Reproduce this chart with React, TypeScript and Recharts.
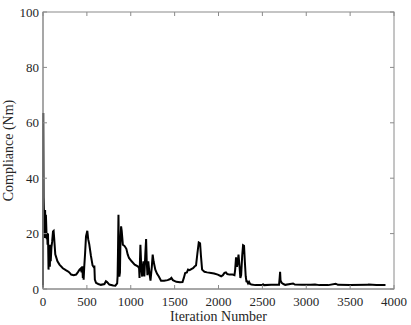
import React from "react";
import { LineChart, Line, XAxis, YAxis } from "recharts";

const iterations: number[] = [0, 3, 7, 10, 15, 19, 24, 28, 33, 38, 42, 47, 52, 57, 63, 68, 74, 78, 84, 88, 96, 104, 114, 121, 128, 140, 150, 165, 188, 226, 260, 283, 300, 321, 350, 378, 400, 416, 430, 440, 448, 454, 458, 463, 470, 480, 490, 505, 515, 527, 546, 565, 580, 585, 591, 604, 630, 660, 700, 717, 730, 756, 800, 825, 845, 850, 855, 860, 865, 870, 877, 882, 890, 897, 910, 930, 950, 965, 980, 1010, 1045, 1080, 1095, 1100, 1105, 1110, 1120, 1130, 1145, 1155, 1165, 1175, 1182, 1190, 1200, 1212, 1225, 1240, 1250, 1260, 1280, 1300, 1320, 1345, 1380, 1420, 1450, 1463, 1480, 1520, 1560, 1590, 1605, 1620, 1640, 1653, 1670, 1690, 1710, 1730, 1744, 1760, 1775, 1790, 1800, 1813, 1840, 1870, 1916, 1950, 1992, 2030, 2050, 2068, 2085, 2100, 2125, 2160, 2182, 2190, 2200, 2210, 2220, 2228, 2240, 2249, 2258, 2270, 2280, 2291, 2300, 2310, 2318, 2325, 2337, 2348, 2360, 2375, 2420, 2500, 2508, 2520, 2600, 2690, 2697, 2702, 2707, 2712, 2720, 2740, 2760, 2850, 2870, 2950, 3050, 3100, 3150, 3250, 3336, 3360, 3500, 3700, 3710, 3800, 3903];

const compliance: number[] = [0.5, 63.5, 33, 29, 22, 18.4, 28.5, 19, 26.8, 22, 18, 20.2, 16, 20, 7, 16, 12, 8, 16, 10, 15, 17, 20.8, 21, 18, 12.5, 11.5, 10, 8.8, 7.5, 6.8, 6.4, 6, 5.2, 5, 5.2, 6.2, 7, 7.4, 6, 8.2, 4, 7, 3.4, 8, 13, 19, 21, 18, 16.2, 12, 8.5, 7.8, 8.5, 3.4, 2.2, 1.8, 1.5, 1.8, 2.8, 2.5, 1.6, 1.3, 1.2, 2, 4.5, 14, 26.8, 14, 4.5, 6, 16, 22.6, 21, 16, 15.5, 14.5, 12.5, 11.2, 10, 8.8, 8.2, 7.5, 4, 10, 16, 8, 4.5, 10, 4.5, 12, 18, 10, 5, 10, 6, 3, 8, 12.4, 10, 7, 5.5, 4.5, 3, 3, 3.2, 3.6, 4, 3.2, 2.6, 2.4, 2.5, 4, 5.8, 6, 7, 6.8, 7.2, 7.5, 8.2, 8.5, 13, 16.8, 16.5, 12, 7, 6.2, 6, 5.8, 5.6, 5.2, 4.6, 5, 5.8, 6, 5.4, 5.2, 5.2, 5, 7, 11.4, 8, 10, 12.4, 8, 4, 5, 12, 15.8, 15.6, 10, 4.6, 2.8, 2.8, 2, 2.6, 1.8, 1.6, 1.4, 1.4, 1.7, 1.4, 1.5, 1.5, 4, 6.2, 3, 2.8, 2.2, 1.8, 1.5, 2, 1.6, 1.5, 1.5, 1.6, 1.4, 1.4, 1.9, 1.5, 1.4, 1.5, 1.6, 1.4, 1.4];

const xTicks: number[] = [0, 500, 1000, 1500, 2000, 2500, 3000, 3500, 4000];
const yTicks: number[] = [0, 20, 40, 60, 80, 100];
const X_MAX = 4000;
const Y_MAX = 100;

const xLabel = "Iteration Number";
const yLabel = "Compliance (Nm)";

const data = iterations.map((it, i) => ({ it, c: compliance[i] }));

const FONT = "'Liberation Serif', 'Times New Roman', serif";
const AXIS = "#8a8a8a";
const TEXT = "#262626";

// layout of the chart
const W = 411;
const H = 325;
const MARGIN = { top: 12, right: 17, bottom: 0, left: 0 };
const Y_AXIS_W = 43;
const X_AXIS_H = 36;
const PLOT = {
  left: MARGIN.left + Y_AXIS_W,
  top: MARGIN.top,
  right: W - MARGIN.right,
  bottom: H - MARGIN.bottom - X_AXIS_H,
};
const TICK_LEN = 4;

const renderYLabel = (props: any) => {
  const vb = props.viewBox || { x: 0, y: 0, height: 0 };
  const cx = vb.x + 13;
  const cy = vb.y + vb.height / 2;
  return (
    <text x={cx} y={cy} transform={`rotate(-90 ${cx} ${cy})`} textAnchor="middle" style={{ fill: TEXT, fontFamily: FONT, fontSize: 14 }}>
      {yLabel}
    </text>
  );
};

// Box frame with inward ticks on all four sides (MATLAB-style axes box)
function AxesBox() {
  const pw = PLOT.right - PLOT.left;
  const ph = PLOT.bottom - PLOT.top;
  const sx = (v: number) => PLOT.left + (v / X_MAX) * pw;
  const sy = (v: number) => PLOT.bottom - (v / Y_MAX) * ph;
  return (
    <svg
      width={W}
      height={H}
      style={{ position: "absolute", left: 0, top: 0, pointerEvents: "none" }}
    >
      <rect x={PLOT.left} y={PLOT.top} width={pw} height={ph} fill="none" stroke={AXIS} strokeWidth={1} />
      {xTicks.map((t) => (
        <g key={"x" + t}>
          <line x1={sx(t)} x2={sx(t)} y1={PLOT.bottom} y2={PLOT.bottom - TICK_LEN} stroke={AXIS} />
          <line x1={sx(t)} x2={sx(t)} y1={PLOT.top} y2={PLOT.top + TICK_LEN} stroke={AXIS} />
        </g>
      ))}
      {yTicks.map((t) => (
        <g key={"y" + t}>
          <line x1={PLOT.left} x2={PLOT.left + TICK_LEN} y1={sy(t)} y2={sy(t)} stroke={AXIS} />
          <line x1={PLOT.right} x2={PLOT.right - TICK_LEN} y1={sy(t)} y2={sy(t)} stroke={AXIS} />
        </g>
      ))}
    </svg>
  );
}

export default function App() {
  return (
    <div style={{ position: "absolute", left: 0, top: 0, width: W, height: H, background: "#fff" }}>
      <LineChart width={W} height={H} data={data} margin={MARGIN}>
        <XAxis
          dataKey="it"
          type="number"
          domain={[0, X_MAX]}
          ticks={xTicks}
          interval={0}
          height={X_AXIS_H}
          stroke={AXIS}
          tickLine={false}
          tickSize={0}
          tickMargin={8}
          tick={{ fill: TEXT, fontFamily: FONT, fontSize: 13 }}
          label={{ value: xLabel, position: "insideBottom", offset: 4, style: { fill: TEXT, fontFamily: FONT, fontSize: 14 } }}
        />
        <YAxis
          type="number"
          domain={[0, Y_MAX]}
          ticks={yTicks}
          interval={0}
          width={Y_AXIS_W}
          stroke={AXIS}
          tickLine={false}
          tickSize={0}
          tickMargin={4}
          tick={{ fill: TEXT, fontFamily: FONT, fontSize: 13 }}
          label={{ value: yLabel, content: renderYLabel }}
        />
        <Line dataKey="c" type="linear" stroke="#000" strokeWidth={2} dot={false} activeDot={false} isAnimationActive={false} />
      </LineChart>
      <AxesBox />
    </div>
  );
}
